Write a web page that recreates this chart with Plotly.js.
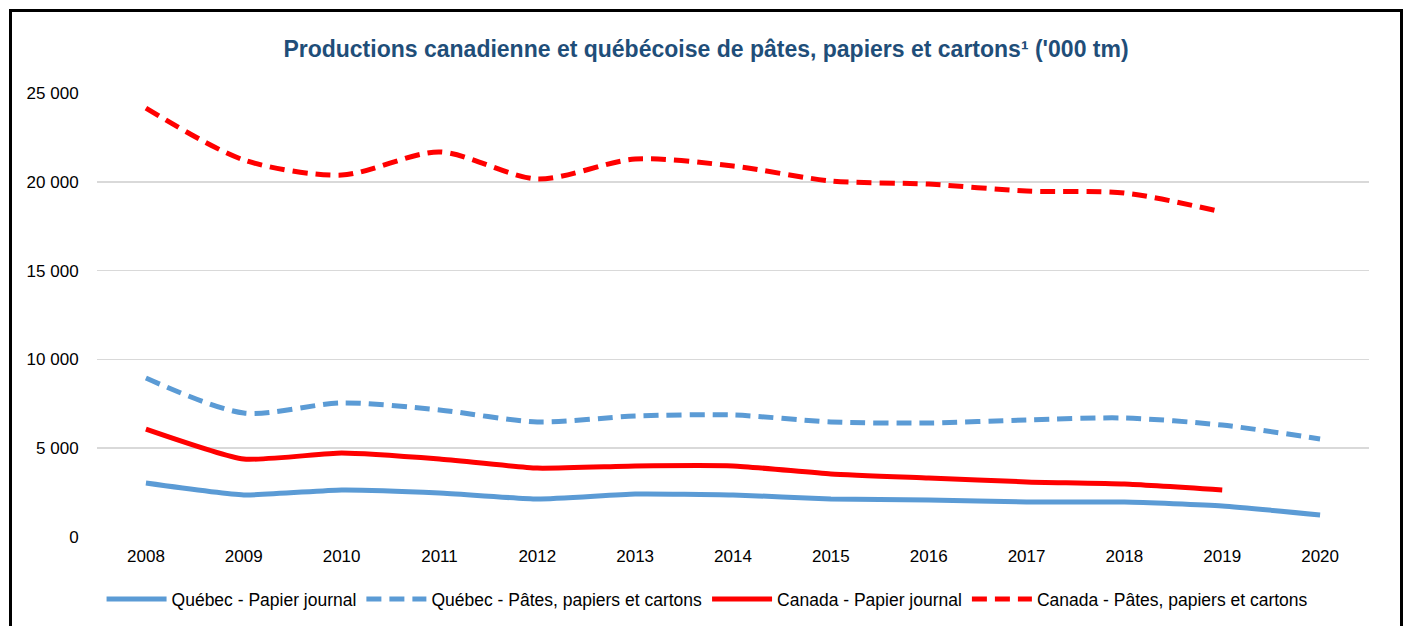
<!DOCTYPE html>
<html>
<head>
<meta charset="utf-8">
<script src="https://cdn.plot.ly/plotly-3.0.1.min.js"></script>
<style>
  html, body { margin: 0; padding: 0; background: #fff; overflow: hidden; }
  #frame { position: absolute; left: 9px; top: 9px; width: 1388px; height: 640px; border: 3px solid #000; }
  #chart { width: 1388px; height: 620px; }
</style>
</head>
<body>
<div id="frame"><div id="chart"></div></div>
<script>
// years on the category axis
const years = ["2008", "2009", "2010", "2011", "2012", "2013", "2014", "2015", "2016", "2017", "2018", "2019", "2020"];

// production in '000 tm
const quebecNewsprint = [3040, 2370, 2650, 2480, 2140, 2420, 2370, 2140, 2080, 1970, 1970, 1750, 1240];
const quebecPulpPaper = [8950, 6980, 7550, 7150, 6480, 6810, 6870, 6480, 6420, 6590, 6700, 6300, 5520];
const canadaNewsprint = [6080, 4390, 4730, 4390, 3880, 4000, 4000, 3550, 3320, 3100, 2980, 2650];
const canadaPulpPaper = [24150, 21230, 20380, 21680, 20160, 21280, 20890, 20050, 19870, 19480, 19370, 18300];

const blue = "#5B9BD5";
const red = "#FF0000";
const sans = "Liberation Sans, Arial, sans-serif";

const traces = [
  {
    x: years, y: quebecNewsprint, name: "Québec - Papier journal",
    type: "scatter", mode: "lines",
    line: { color: blue, width: 5, shape: "spline", smoothing: 0.5 },
  },
  {
    x: years, y: quebecPulpPaper, name: "Québec - Pâtes, papiers et cartons",
    type: "scatter", mode: "lines",
    line: { color: blue, width: 5, dash: "15px,8px", shape: "spline", smoothing: 0.8 },
  },
  {
    x: years.slice(0, canadaNewsprint.length), y: canadaNewsprint, name: "Canada - Papier journal",
    type: "scatter", mode: "lines",
    line: { color: red, width: 5, shape: "spline", smoothing: 0.5 },
  },
  {
    x: years.slice(0, canadaPulpPaper.length), y: canadaPulpPaper, name: "Canada - Pâtes, papiers et cartons",
    type: "scatter", mode: "lines",
    line: { color: red, width: 5, dash: "15px,8px", shape: "spline", smoothing: 0.8 },
  },
];

const layout = {
  width: 1388,
  height: 620,
  margin: { l: 85, r: 31, t: 81, b: 95, autoexpand: false },
  paper_bgcolor: "#fff",
  plot_bgcolor: "#fff",
  font: { family: sans, size: 17.5, color: "#000" },
  separators: ", ",
  title: {
    text: "Productions canadienne et québécoise de pâtes, papiers et cartons¹ ('000 tm)",
    font: { family: sans, size: 23, color: "#1F4E79", weight: "bold" },
    x: 0.5, xanchor: "center",
    y: 0.94, yanchor: "middle",
  },
  xaxis: {
    type: "category",
    range: [-0.5, 12.5],
    showgrid: false,
    zeroline: false,
    showline: false,
    ticks: "outside",
    ticklen: 4,
    tickcolor: "rgba(0,0,0,0)",
    tickfont: { size: 17, color: "#000" },
    fixedrange: true,
  },
  yaxis: {
    range: [0, 25000],
    dtick: 5000,
    tickformat: ",d",
    showgrid: true,
    gridcolor: "#D9D9D9",
    gridwidth: 1.5,
    zeroline: false,
    showline: false,
    ticks: "outside",
    ticklen: 14,
    tickcolor: "rgba(0,0,0,0)",
    tickfont: { size: 17, color: "#000" },
    fixedrange: true,
  },
  showlegend: true,
  legend: {
    orientation: "h",
    x: 0.48, xanchor: "center",
    y: -0.14, yanchor: "middle",
    font: { size: 17.5, color: "#000" },
    itemwidth: 60,
    traceorder: "normal",
  },
};

Plotly.newPlot("chart", traces, layout, { displayModeBar: false, staticPlot: true });
</script>
</body>
</html>
